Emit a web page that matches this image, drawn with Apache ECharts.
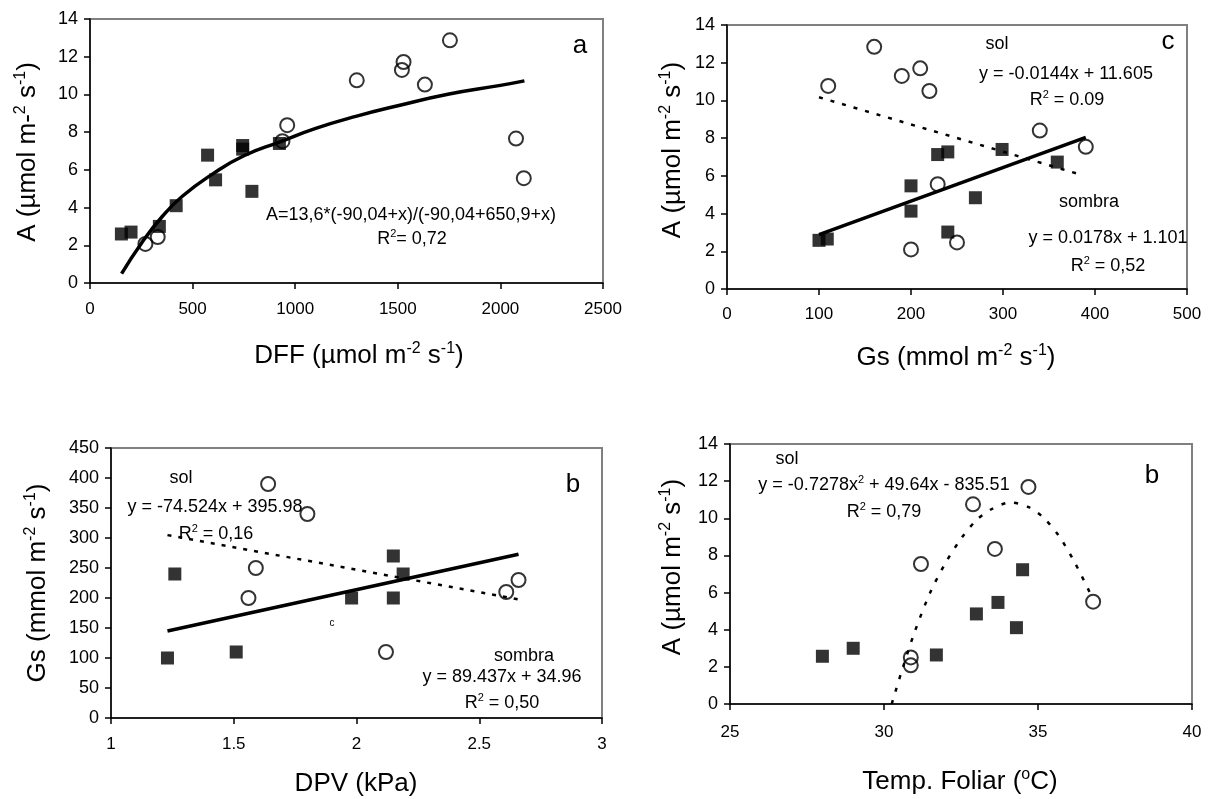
<!DOCTYPE html>
<html>
<head>
<meta charset="utf-8">
<script src="https://cdn.jsdelivr.net/npm/echarts@6/dist/echarts.min.js"></script>
<style>
html,body{margin:0;padding:0;background:#fff;}
#chart{width:1217px;height:799px;}
</style>
</head>
<body>
<div id="chart"></div>
<script>
// ---------- Panel a : DFF vs A ----------
const dffSombra = [[153,2.6],[200,2.7],[338,3.0],[420,4.1],[573,6.78],[612,5.47],[744,7.29],[744,7.1],[789,4.86],[923,7.4]];
const dffSol = [[270,2.07],[330,2.44],[938,7.52],[961,8.37],[1300,10.75],[1520,11.3],[1528,11.72],[1632,10.52],[1754,12.87],[2076,7.66],[2114,5.56]];
const dffCurve = [[154,0.5],[250,2.1],[350,3.5],[450,4.6],[600,5.8],[750,6.75],[930,7.5],[1100,8.2],[1300,8.85],[1500,9.4],[1750,10.02],[2000,10.48],[2117,10.72]];
const dffXTicks = [0, 2500, 500];
const aYTicks = [0, 14, 2];

// ---------- Panel c : Gs vs A ----------
const gsSombra = [[100,2.58],[109,2.65],[200,5.47],[200,4.13],[229,7.13],[240,7.27],[240,3.02],[270,4.84],[299,7.4],[359,6.73]];
const gsSol = [[110,10.77],[160,12.84],[190,11.3],[210,11.7],[220,10.5],[229,5.56],[200,2.1],[250,2.47],[340,8.4],[390,7.54]];
const gsSolLine = [[100,10.17],[382,6.1]];
const gsSombraLine = [[100,2.88],[390,8.04]];
const gsXTicks = [0, 500, 100];

// ---------- Panel b : DPV vs Gs ----------
const dpvSombra = [[1.23,100],[1.26,240],[1.51,110],[1.98,200],[2.15,270],[2.15,200],[2.19,240]];
const dpvSol = [[1.64,390],[1.80,340],[1.59,250],[1.56,200],[2.12,110],[2.61,210],[2.66,230]];
const dpvSolLine = [[1.23,304.8],[2.66,197.8]];
const dpvSombraLine = [[1.23,145],[2.66,273]];
const dpvXTicks = [1, 3, 0.5];
const gsYTicks = [0, 450, 50];

// ---------- Panel d : Temp. Foliar vs A ----------
const tempSombra = [[28.0,2.57],[29.0,3.0],[31.7,2.64],[33.0,4.85],[33.7,5.47],[34.3,4.11],[34.5,7.23]];
const tempSol = [[30.87,2.51],[30.87,2.08],[31.2,7.54],[32.89,10.75],[33.6,8.35],[34.69,11.69],[36.79,5.51]];
const tempCurve = [[30.25,0],[30.6,1.9],[31.0,3.9],[31.5,6.0],[32.0,7.6],[32.5,8.9],[33.0,9.9],[33.5,10.5],[34.1,10.85],[34.7,10.6],[35.2,10.0],[35.7,9.0],[36.2,7.6],[36.8,5.6]];
const tempXTicks = [25, 40, 5];

const FONT = "'Liberation Sans', Arial, Helvetica, sans-serif";
const chart = echarts.init(document.getElementById('chart'), null, {renderer:'canvas'});

function xAx(idx, t, margin){
  return {gridIndex:idx, type:'value', min:t[0], max:t[1], interval:t[2], z:3,
    axisLine:{show:true, onZero:false, lineStyle:{color:'#000', width:1.5}},
    axisTick:{show:true, inside:false, length:6, lineStyle:{color:'#000', width:1.5}},
    splitLine:{show:false},
    axisLabel:{color:'#000', fontSize:17, fontFamily:FONT, margin:margin, formatter:(v)=>String(v)}};
}
function yAx(idx, t){
  return {gridIndex:idx, type:'value', min:t[0], max:t[1], interval:t[2], z:3,
    axisLine:{show:true, onZero:false, lineStyle:{color:'#000', width:1.5}},
    axisTick:{show:true, inside:false, length:6, lineStyle:{color:'#000', width:1.5}},
    splitLine:{show:false},
    axisLabel:{color:'#000', fontSize:18, fontFamily:FONT, margin:12, formatter:(v)=>String(v)}};
}
function sq(idx, data){
  return {type:'scatter', xAxisIndex:idx, yAxisIndex:idx, data:data, symbol:'rect', symbolSize:13,
    itemStyle:{color:'#000'}, z:4, silent:true};
}
function circ(idx, data){
  return {type:'scatter', xAxisIndex:idx, yAxisIndex:idx, data:data, symbol:'circle', symbolSize:14,
    itemStyle:{color:'rgba(0,0,0,0)', borderColor:'#000', borderWidth:2}, z:5, silent:true};
}
function ln(idx, data, type, width, smooth){
  return {type:'line', xAxisIndex:idx, yAxisIndex:idx, data:data, showSymbol:false, symbol:'none',
    smooth:smooth||false, lineStyle:{color:'#000', width:width, type:type, cap:'butt'}, z:3, silent:true, animation:false};
}

function txt(x, y, text, size, rot){
  const ss = Math.round(size*0.6);
  const r = {sup:{fontSize: ss, fontFamily:FONT, fill:'#000', padding:[0,0,Math.round(size*0.55),0]}};
  return {type:'text', x:x, y:y, rotation: rot||0, z:100, silent:true,
    style:{text:text, fontSize:size, fontFamily:FONT, fill:'#000', align:'center', verticalAlign:'middle', rich:r}};
}

const option = {
  animation:false,
  backgroundColor:'#fff',
  grid:[
    {left:90, top:19, width:513, height:264, show:true, borderColor:'#808080', borderWidth:2, backgroundColor:'rgba(0,0,0,0)'},
    {left:727, top:25, width:460, height:264, show:true, borderColor:'#808080', borderWidth:2, backgroundColor:'rgba(0,0,0,0)'},
    {left:111, top:448, width:491, height:270, show:true, borderColor:'#808080', borderWidth:2, backgroundColor:'rgba(0,0,0,0)'},
    {left:730, top:444, width:462, height:260, show:true, borderColor:'#808080', borderWidth:2, backgroundColor:'rgba(0,0,0,0)'}
  ],
  xAxis:[ xAx(0, dffXTicks, 18), xAx(1, gsXTicks, 17), xAx(2, dpvXTicks, 18), xAx(3, tempXTicks, 20) ],
  yAxis:[ yAx(0, aYTicks), yAx(1, aYTicks), yAx(2, gsYTicks), yAx(3, aYTicks) ],
  series:[
    ln(0, dffCurve, 'solid', 3.5, true), sq(0, dffSombra), circ(0, dffSol),
    ln(1, gsSolLine, [4,8], 2.5), ln(1, gsSombraLine, 'solid', 3.5), sq(1, gsSombra), circ(1, gsSol),
    ln(2, dpvSolLine, [4,7], 2.5), ln(2, dpvSombraLine, 'solid', 3.5), sq(2, dpvSombra), circ(2, dpvSol),
    ln(3, tempCurve, [4,9], 2.5, 0.3), sq(3, tempSombra), circ(3, tempSol)
  ],
  graphic:[
    // Panel a
    txt(359, 356, 'DFF (µmol m{sup|-2} s{sup|-1})', 26),
    txt(28, 152, 'A (µmol m-{sup|2} s{sup|-1})', 26, Math.PI/2),
    txt(411, 215, 'A=13,6*(-90,04+x)/(-90,04+650,9+x)', 18),
    txt(412, 239, 'R{sup|2}= 0,72', 18),
    txt(580, 46, 'a', 26),
    // Panel c
    txt(956, 358, 'Gs (mmol m{sup|-2} s{sup|-1})', 26),
    txt(673, 150, 'A (µmol m{sup|-2} s{sup|-1})', 26, Math.PI/2),
    txt(997, 44, 'sol', 18),
    txt(1066, 74, 'y = -0.0144x + 11.605', 18),
    txt(1067, 100, 'R{sup|2} = 0.09', 18),
    txt(1168, 42, 'c', 26),
    txt(1089, 202, 'sombra', 18),
    txt(1108, 238, 'y = 0.0178x + 1.101', 18),
    txt(1108, 266, 'R{sup|2} = 0,52', 18),
    // Panel b
    txt(356, 784, 'DPV (kPa)', 26),
    txt(38, 583, 'Gs (mmol m{sup|-2} s{sup|-1})', 26, Math.PI/2),
    txt(181, 478, 'sol', 18),
    txt(215, 507, 'y = -74.524x + 395.98', 18),
    txt(216, 534, 'R{sup|2} = 0,16', 18),
    txt(573, 485, 'b', 26),
    txt(332, 623, 'c', 10),
    txt(524, 656, 'sombra', 18),
    txt(502, 677, 'y = 89.437x + 34.96', 18),
    txt(502, 703, 'R{sup|2} = 0,50', 18),
    // Panel d
    txt(960, 782, 'Temp. Foliar ({sup|o}C)', 26),
    txt(673, 567, 'A (µmol m{sup|-2} s{sup|-1})', 26, Math.PI/2),
    txt(787, 459, 'sol', 18),
    txt(884, 485, 'y = -0.7278x{sup|2} + 49.64x - 835.51', 18),
    txt(884, 512, 'R{sup|2} = 0,79', 18),
    txt(1152, 476, 'b', 26)
  ]
};
chart.setOption(option);
</script>
</body>
</html>
